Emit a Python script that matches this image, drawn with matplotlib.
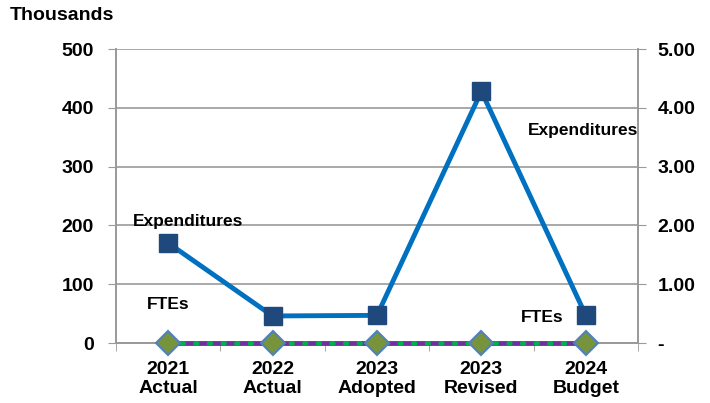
import matplotlib.pyplot as plt
import numpy as np

plt.rcParams["font.family"] = ["Liberation Sans", "DejaVu Sans"]
plt.rcParams["font.weight"] = "bold"

categories = ["2021\nActual", "2022\nActual", "2023\nAdopted", "2023\nRevised", "2024\nBudget"]
expenditures = [170, 46, 47, 428, 47]  # thousands
ftes = [0, 0, 0, 0, 0]

fig = plt.figure(figsize=(7.1, 4.03), dpi=100)
ax = fig.add_axes([116 / 710, 1 - 343 / 403, (638 - 116) / 710, (343 - 49) / 403])
ax2 = ax.twinx()

x = np.arange(len(categories))
grid = "#999999"

ax.set_xlim(-0.5, len(categories) - 0.5)
ax.set_ylim(0, 500)
ax.set_yticks(np.arange(0, 501, 100))
ax.yaxis.grid(True, color=grid, lw=1.2)
ax.set_axisbelow(True)
ax.set_xticks(x)
ax.set_xticklabels(categories, fontsize=14, fontweight="bold", linespacing=1.15)
ax.set_xticks(np.arange(-0.5, len(categories)), minor=True)
ax.tick_params(axis="x", which="major", length=0, pad=13)
ax.tick_params(axis="x", which="minor", length=6, color=grid, direction="out")
ax.tick_params(axis="y", length=6, color=grid, labelsize=14, pad=10)
for s in ["top"]:
    ax.spines[s].set_visible(False)
    ax2.spines[s].set_visible(False)
for a in (ax, ax2):
    for s in ["left", "right", "bottom"]:
        a.spines[s].set_color(grid)
        a.spines[s].set_linewidth(1.2)

ax.plot(x, expenditures, color="#0070c0", lw=3.5, marker="s", ms=13,
        mfc="#1f497d", mec="#1f497d", zorder=4, clip_on=False)

ax2.set_ylim(0, 5)
ax2.set_yticks(np.arange(0, 5.01, 1))
ax2.set_yticklabels(["-"] + [f"{v:.2f}" for v in np.arange(1, 5.01, 1)])
ax2.tick_params(axis="y", length=6, color=grid, labelsize=14, pad=8)

ax2.plot(x, ftes, color="#7030a0", lw=3.5, zorder=3, clip_on=False)
ax2.plot(x, ftes, color="#00b050", lw=3.5, ls=(0, (0.3, 2.5)), dash_capstyle="round",
         zorder=4, clip_on=False)
ax2.plot(x, ftes, ls="none", marker="D", ms=12, mfc="#77933c", mec="#4f81bd",
         mew=1.5, zorder=5, clip_on=False)

ax.text(0.19, 206, "Expenditures", ha="center", va="center", fontsize=12.5, fontweight="bold")
ax.text(0.0, 66, "FTEs", ha="center", va="center", fontsize=12.5, fontweight="bold")
ax.text(3.97, 361, "Expenditures", ha="center", va="center", fontsize=12.5, fontweight="bold")
ax.text(3.58, 43, "FTEs", ha="center", va="center", fontsize=12.5, fontweight="bold")

fig.text(10 / 710, 1 - 16 / 403, "Thousands", ha="left", va="center", fontsize=14, fontweight="bold")

fig.savefig("out.png", dpi=100)
